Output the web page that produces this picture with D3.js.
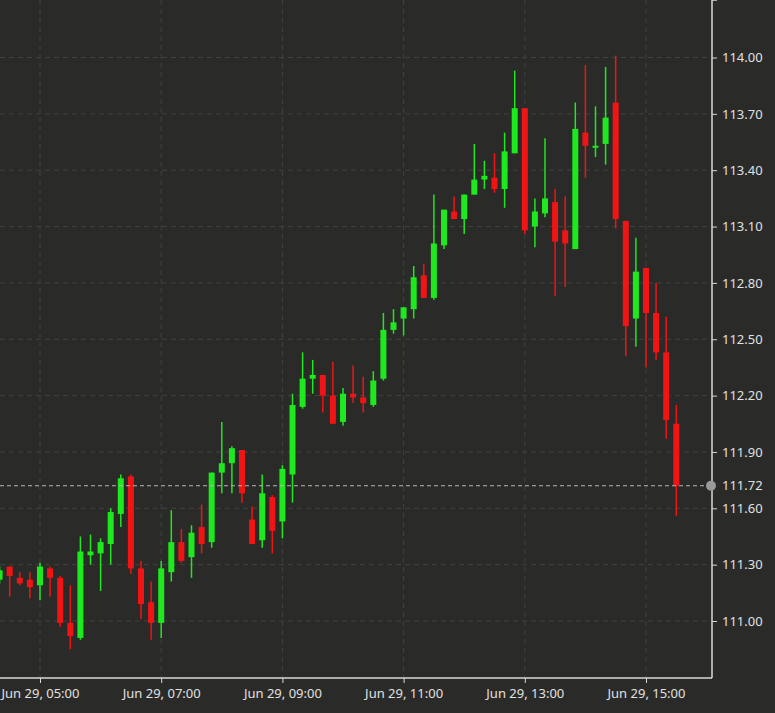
<!DOCTYPE html>
<html>
<head>
<meta charset="utf-8">
<script src="https://cdn.jsdelivr.net/npm/d3@7"></script>
<style>
  body { margin: 0; background: #2a2b29; }
  svg { display: block; }
</style>
</head>
<body>
<script>
const width = 775;
const height = 713;

// 10 minute candles, Jun 29, starting 04:20
const startTime = new Date(2022, 5, 29, 4, 20);
const opens  = [111.22,111.29,111.23,111.22,111.19,111.28,111.23,110.99,110.91,111.35,111.36,111.41,111.57,111.77,111.28,111.10,110.99,111.26,111.42,111.34,111.50,111.42,111.79,111.84,111.91,111.54,111.43,111.66,111.53,111.78,112.14,112.29,112.31,112.20,112.06,112.21,112.19,112.15,112.29,112.55,112.61,112.66,112.84,112.72,113.00,113.18,113.14,113.27,113.35,113.36,113.30,113.49,113.73,113.10,113.17,113.23,113.08,112.98,113.60,113.52,113.54,113.76,113.13,112.61,112.88,112.64,112.43,112.05];
const highs  = [111.29,111.29,111.26,111.26,111.31,111.29,111.24,111.19,111.45,111.46,111.44,111.60,111.78,111.78,111.32,111.21,111.32,111.59,111.49,111.51,111.62,111.79,112.06,111.93,111.91,111.61,111.78,111.67,111.83,112.21,112.43,112.39,112.31,112.38,112.24,112.36,112.30,112.33,112.64,112.66,112.67,112.89,112.90,113.27,113.19,113.26,113.27,113.54,113.45,113.49,113.60,113.93,113.73,113.25,113.57,113.30,113.26,113.76,113.96,113.74,113.95,114.01,113.13,113.04,112.88,112.80,112.62,112.15];
const lows   = [111.20,111.13,111.19,111.12,111.11,111.13,110.97,110.85,110.90,111.30,111.16,111.30,111.50,111.25,111.01,110.90,110.91,111.21,111.31,111.23,111.36,111.39,111.68,111.68,111.63,111.41,111.39,111.36,111.44,111.63,112.13,112.21,112.11,112.05,112.04,112.16,112.11,112.14,112.28,112.53,112.52,112.61,112.72,112.71,112.98,113.14,113.06,113.27,113.30,113.28,113.20,113.49,113.06,112.99,113.15,112.73,112.78,112.98,113.36,113.47,113.43,113.09,112.41,112.46,112.35,112.39,111.97,111.56];
const closes = [111.27,111.24,111.20,111.18,111.29,111.23,110.99,110.92,111.37,111.37,111.42,111.58,111.76,111.28,111.09,110.99,111.28,111.42,111.32,111.47,111.41,111.79,111.84,111.92,111.68,111.41,111.68,111.48,111.81,112.15,112.29,112.31,112.20,112.05,112.21,112.19,112.16,112.28,112.55,112.59,112.67,112.83,112.72,113.01,113.19,113.14,113.27,113.35,113.37,113.30,113.50,113.73,113.08,113.18,113.25,113.02,113.01,113.62,113.53,113.53,113.68,113.14,112.57,112.86,112.64,112.43,112.07,111.72];
const priceTicks = [111.00,111.30,111.60,111.90,112.20,112.50,112.80,113.10,113.40,113.70,114.00];
const timeTicks = [5, 7, 9, 11, 13, 15].map(h => new Date(2022, 5, 29, h, 0));
const lastPrice = 111.72;

const candles = opens.map((o, i) => ({
  t: new Date(startTime.getTime() + i * 10 * 60000),
  o: o, h: highs[i], l: lows[i], c: closes[i]
}));

const svg = d3.select('body').append('svg').attr('width', width).attr('height', height);
svg.append('rect').attr('width', width).attr('height', height).attr('fill', '#2a2b29');

const plotRight = 712;
const plotBottom = 678;

const x = d3.scaleTime()
  .domain([new Date(2022, 5, 29, 5, 0), new Date(2022, 5, 29, 15, 0)])
  .range([40, 646]);
const y = d3.scaleLinear().domain([111.0, 114.0]).range([621, 57.5]);

// grid
const grid = svg.append('g');
grid.selectAll('line.h').data(priceTicks).join('line')
  .attr('x1', 0).attr('x2', plotRight)
  .attr('y1', d => y(d)).attr('y2', d => y(d))
  .attr('stroke', '#404140').attr('stroke-dasharray', '5,4');
grid.selectAll('line.v').data(timeTicks).join('line')
  .attr('x1', d => x(d)).attr('x2', d => x(d))
  .attr('y1', 0).attr('y2', plotBottom)
  .attr('stroke', '#404140').attr('stroke-dasharray', '5,4');

// candles
const bw = 6;
const cg = svg.append('g');
cg.selectAll('line').data(candles).join('line')
  .attr('x1', d => x(d.t)).attr('x2', d => x(d.t))
  .attr('y1', d => y(d.h)).attr('y2', d => y(d.l))
  .attr('stroke', d => d.c >= d.o ? '#1ee81e' : '#f01414')
  .attr('stroke-width', 1.5);
cg.selectAll('rect').data(candles).join('rect')
  .attr('x', d => x(d.t) - bw / 2)
  .attr('width', bw)
  .attr('y', d => y(Math.max(d.o, d.c)))
  .attr('height', d => Math.max(2, Math.abs(y(d.o) - y(d.c))))
  .attr('fill', d => d.c >= d.o ? '#1ee81e' : '#f01414');

// last price line
svg.append('line')
  .attr('x1', 0).attr('x2', plotRight)
  .attr('y1', y(lastPrice)).attr('y2', y(lastPrice))
  .attr('stroke', '#b8b8b8').attr('stroke-dasharray', '4,3');

// axes
const yAxis = svg.append('g').attr('transform', `translate(${plotRight},0)`)
  .call(d3.axisRight(y).tickValues(priceTicks).tickFormat(d3.format('.2f')).tickSize(5).tickPadding(5));
const xAxis = svg.append('g').attr('transform', `translate(0,${plotBottom})`)
  .call(d3.axisBottom(x).tickValues(timeTicks).tickFormat(d3.timeFormat('Jun 29, %H:%M')).tickSize(5).tickPadding(6));
[yAxis, xAxis].forEach(a => {
  a.select('.domain').attr('stroke', '#d8d8d8').attr('stroke-width', 1.5);
  a.selectAll('.tick line').attr('stroke', '#d8d8d8');
  a.selectAll('text').attr('fill', '#e0e0e0').attr('font-size', 13).attr('font-family', '"Noto Sans", sans-serif');
});
yAxis.select('.domain').attr('d', `M5,0H0V${plotBottom}`);
xAxis.select('.domain').attr('d', `M0,0H${plotRight}`);

// last price marker
svg.append('circle').attr('cx', plotRight - 1).attr('cy', y(lastPrice)).attr('r', 5).attr('fill', '#9a9a9a');
svg.append('text')
  .attr('x', plotRight + 10).attr('y', y(lastPrice)).attr('dy', '0.35em')
  .attr('fill', '#e0e0e0').attr('font-size', 13).attr('font-family', '"Noto Sans", sans-serif')
  .text(lastPrice.toFixed(2));
</script>
</body>
</html>
